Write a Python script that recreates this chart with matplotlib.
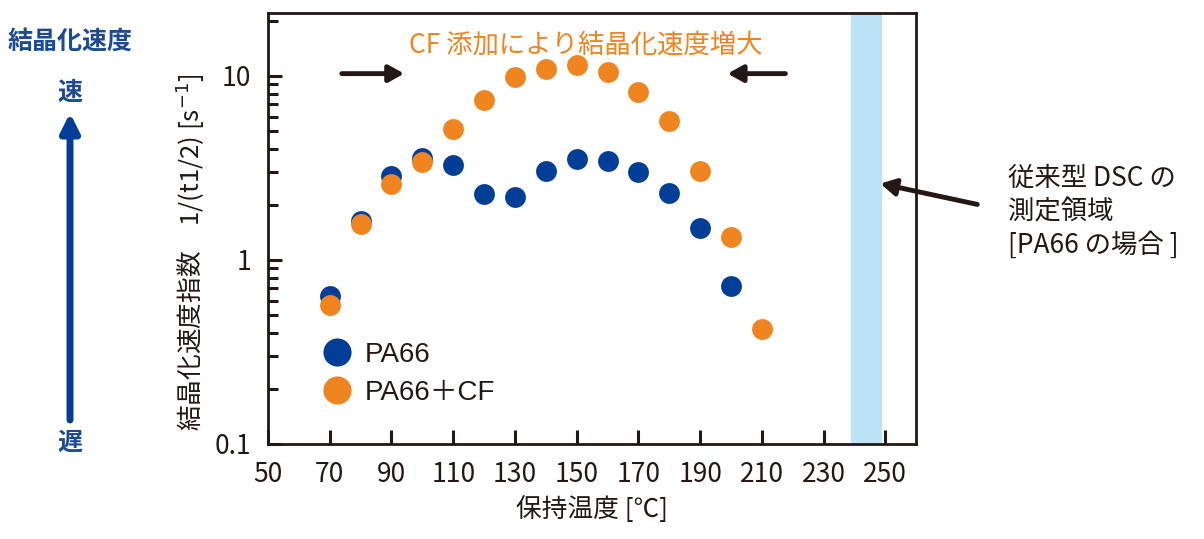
import matplotlib
matplotlib.use('Agg')
import matplotlib.pyplot as plt
from matplotlib.ticker import LogLocator, NullFormatter, FixedLocator

plt.rcParams['font.family'] = ['Liberation Sans Narrow', 'Noto Sans CJK JP', 'DejaVu Sans']
JP = ['Noto Sans CJK JP', 'DejaVu Sans']
LAT = ['Liberation Sans', 'Noto Sans CJK JP', 'DejaVu Sans']

# data
temps_pa66 = [70, 80, 90, 100, 110, 120, 130, 140, 150, 160, 170, 180, 190, 200]
rate_pa66 = [0.64, 1.63, 2.86, 3.58, 3.28, 2.28, 2.20, 3.05, 3.54, 3.45, 3.01, 2.31, 1.49, 0.72]
temps_cf = [70, 80, 90, 100, 110, 120, 130, 140, 150, 160, 170, 180, 190, 200, 210]
rate_cf = [0.57, 1.57, 2.59, 3.41, 5.15, 7.41, 9.88, 10.9, 11.5, 10.5, 8.19, 5.69, 3.05, 1.33, 0.42]
x_ticks = [50, 70, 90, 110, 130, 150, 170, 190, 210, 230, 250]
y_ticks = [0.1, 1, 10]
y_tick_labels = ['0.1', '1', '10']
dsc_range = (239, 249)

blue = '#003E97'
orange = '#F08520'
band = '#BDE3F7'
text_blue = '#1C4A94'
ink = '#231815'

fig = plt.figure(figsize=(12.04, 5.39), dpi=100)
ax = fig.add_axes([0.2226, 0.1763, 0.5384, 0.7996])

ax.axvspan(dsc_range[0], dsc_range[1], color=band, lw=0, zorder=0)
ax.plot(temps_pa66, rate_pa66, 'o', color=blue, ms=15, mec='none', label='PA66', zorder=3)
ax.plot(temps_cf, rate_cf, 'o', color=orange, ms=15, mec='none', label='PA66＋CF', zorder=4)

ax.set_yscale('log')
ax.set_xlim(50, 260)
ax.set_ylim(0.1, 22)
ax.xaxis.set_major_locator(FixedLocator(x_ticks))
ax.set_xticklabels([str(t) for t in x_ticks])
ax.yaxis.set_major_locator(FixedLocator(y_ticks))
ax.set_yticklabels(y_tick_labels)
ax.yaxis.set_minor_locator(LogLocator(base=10, subs=range(2, 10)))
ax.yaxis.set_minor_formatter(NullFormatter())
ax.tick_params(axis='both', which='major', direction='in', length=10, width=2.2,
               labelsize=19, pad=12, top=False, right=False, colors=ink)
ax.tick_params(axis='y', which='minor', direction='in', length=7, width=2.2, right=False, colors=ink)
ax.tick_params(axis='x', which='minor', bottom=False)
for s in ax.spines.values():
    s.set_linewidth(2)
    s.set_color(ink)

ax.set_xlabel('保持温度 [℃]', family=JP, fontsize=18.5, labelpad=6, color=ink)

leg = ax.legend(loc='center left', bbox_to_anchor=(0.025, 0.163), frameon=False,
                markerscale=1.35, handletextpad=0.0, labelspacing=0.42,
                prop={'family': LAT, 'size': 20})
for t in leg.get_texts():
    t.set_color(ink)

# annotation inside the plot
ax.text(0.49, 0.925, 'CF 添加により結晶化速度増大', transform=ax.transAxes,
        ha='center', va='center', color=orange, fontsize=19, family=JP)
ax.annotate('', xy=(95, 10.3), xytext=(73, 10.3),
            arrowprops=dict(arrowstyle='-|>,head_length=0.9,head_width=0.5', color=ink, lw=3.5))
ax.annotate('', xy=(198, 10.3), xytext=(218.5, 10.3),
            arrowprops=dict(arrowstyle='-|>,head_length=0.9,head_width=0.5', color=ink, lw=3.5))

# DSC annotation outside the plot
ax.annotate('', xy=(247.5, 2.62), xytext=(980 / 1204, 1 - 205 / 539), textcoords='figure fraction',
            arrowprops=dict(arrowstyle='-|>,head_length=0.9,head_width=0.5', color=ink, lw=3.5),
            annotation_clip=False)
fig.text(1008 / 1204, 1 - 212 / 539, '従来型 DSC の\n測定領域\n[PA66 の場合 ]', family=JP,
         fontsize=19, ha='left', va='center', linespacing=1.3, color=ink)

# y label
fig.text(190 / 1204, 1 - 252 / 539, '結晶化速度指数　1/(t1/2) [s$^{-1}$]', family=JP,
         fontsize=18.5, rotation=90, ha='center', va='center', color=ink)

# speed indicator on the far left
fig.text(70 / 1204, 1 - 42 / 539, '結晶化速度', family=JP, fontsize=18, color=text_blue,
         ha='center', va='center', weight='bold')
fig.text(70 / 1204, 1 - 93 / 539, '速', family=JP, fontsize=18, color=text_blue,
         ha='center', va='center', weight='bold')
fig.text(70 / 1204, 1 - 443 / 539, '遅', family=JP, fontsize=18, color=text_blue,
         ha='center', va='center', weight='bold')
ax.annotate('', xy=(70 / 1204, 1 - 113 / 539), xytext=(70 / 1204, 1 - 420 / 539),
            xycoords='figure fraction', textcoords='figure fraction',
            arrowprops=dict(arrowstyle='-|>,head_length=1.1,head_width=0.55', color=blue, lw=5,
                            shrinkA=0, shrinkB=0),
            annotation_clip=False)

fig.savefig('out.png', dpi=100)
